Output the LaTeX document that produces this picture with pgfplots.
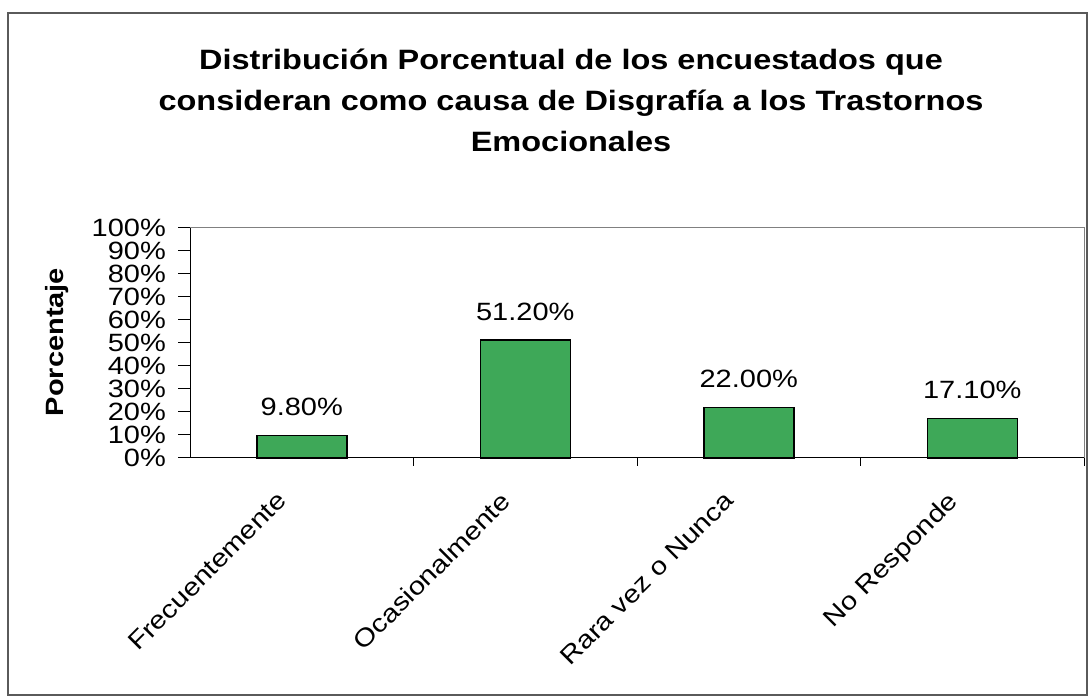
\documentclass[border=0pt]{standalone}
\usepackage{pgfplots}
\pgfplotsset{compat=1.18}
\usepackage{fontspec}
\setmainfont{Liberation Sans}[FakeStretch=1.16]
\definecolor{barfill}{RGB}{62,168,88}
\definecolor{framegray}{RGB}{90,90,90}
\begin{document}
\begin{tikzpicture}[x=1bp,y=1bp]
\useasboundingbox (0,0) rectangle (1091,700);
\draw[framegray, line width=1.2bp] (8,5) rectangle (1087,687);
\node[align=center, font=\fontsize{28bp}{41bp}\selectfont\bfseries] at (571,600)
  {Distribución Porcentual de los encuestados que\\consideran como causa de Disgrafía a los Trastornos\\Emocionales};
\begin{axis}[
  at={(190bp,242bp)}, anchor=south west,
  scale only axis, width=894bp, height=230bp,
  xmin=-0.5, xmax=3.5, ymin=0, ymax=100,
  axis line style={draw=gray, line width=1bp},
  tick align=outside,
  xtick pos=bottom, ytick pos=left,
  /pgf/number format/assume math mode=true,
  ticklabel style={font=\fontsize{25bp}{26bp}\selectfont},
  ytick={0,10,...,100},
  yticklabel={\pgfmathprintnumber{\tick}\%},
  yticklabel style={inner sep=0pt, xshift=-12bp},
  ytick style={draw=black, line width=1bp},
  major tick length=12bp,
  xtick={0,1,2,3},
  xticklabels={Frecuentemente,Ocasionalmente,Rara vez o Nunca,No Responde},
  xtick style={draw=none},
  xticklabel style={xshift=-26bp, yshift=-20bp, rotate=45, anchor=north east, inner sep=0pt},
  extra x ticks={0.5,1.5,2.5,3.5},
  extra x tick labels={},
  extra x tick style={xtick style={draw=black, line width=1bp}, major tick length=8bp},
  ylabel={\textbf{Porcentaje}},
  ylabel style={font=\fontsize{25bp}{26bp}\selectfont, at={(rel axis cs:-0.149,0.504)}, anchor=center, rotate=0},
  nodes near coords={\pgfmathprintnumber[fixed,fixed zerofill,precision=2]{\pgfplotspointmeta}\%},
  nodes near coords style={font=\fontsize{25bp}{26bp}\selectfont, anchor=south, inner sep=0pt, yshift=19bp},
  clip=false,
]
\addplot[ybar, bar width=90bp, fill=barfill, draw=black, line width=1.5bp] coordinates {(0,9.8) (1,51.2) (2,22.0) (3,17.1)};
\draw[black, line width=1bp] (rel axis cs:0,1) -- (rel axis cs:0,0) -- (rel axis cs:1,0);
\end{axis}
\end{tikzpicture}
\end{document}
